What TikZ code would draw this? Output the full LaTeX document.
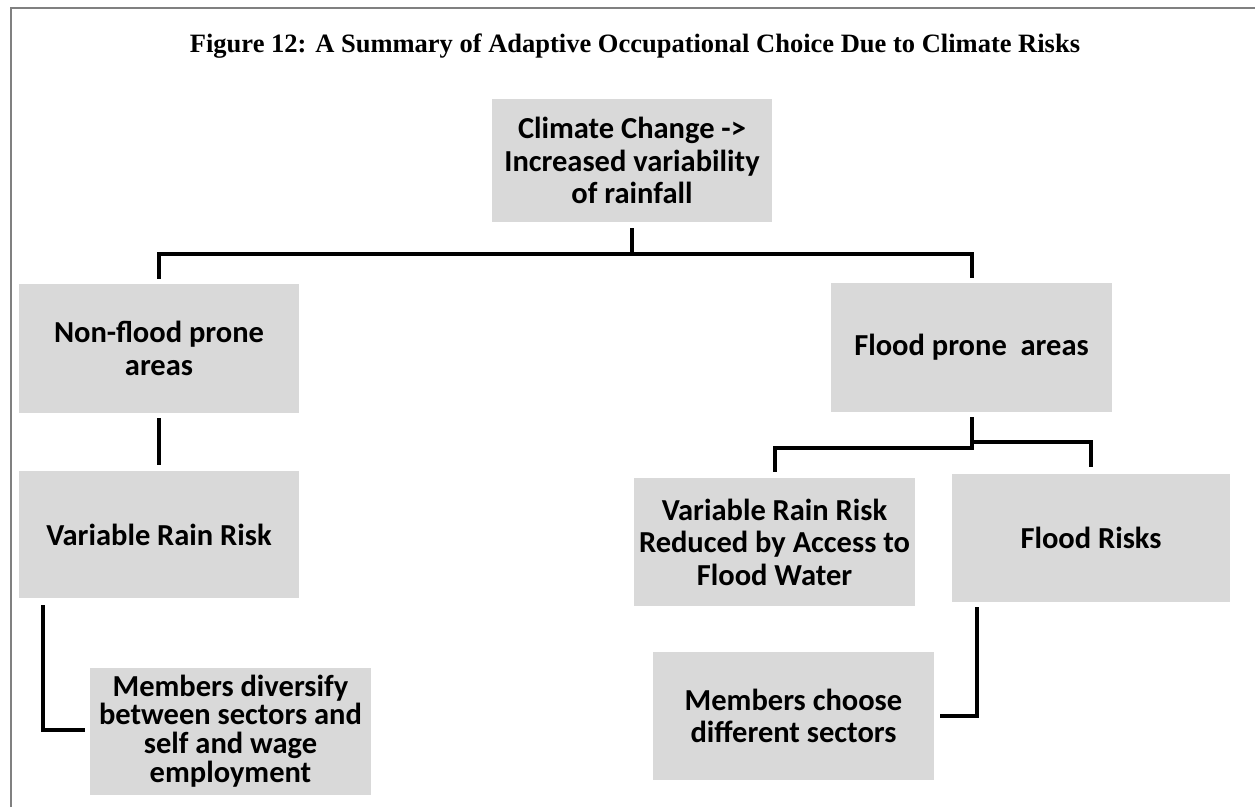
\documentclass[tikz,border=0pt]{standalone}
\usepackage{fontspec}
\setmainfont{Liberation Serif}
\newfontfamily\boxfont{Carlito}
\usetikzlibrary{calc}
\definecolor{boxgray}{HTML}{D9D9D9}
\definecolor{framegray}{HTML}{808080}
\begin{document}
\begin{tikzpicture}[x=1pt,y=-1pt,
  box/.style={fill=boxgray, draw=none, minimum width=280pt, minimum height=128pt,
    align=center, inner sep=0pt, font=\boxfont\bfseries\fontsize{30.5}{32.5}\selectfont},
  conn/.style={draw=black, line width=4pt, line join=miter}]
\useasboundingbox (0,0) rectangle (1255,807);
\draw[framegray, line width=2pt] (11,807) -- (11,8) -- (1255,8);

\node[font=\bfseries\fontsize{26.5}{30}\selectfont] (title) at (635,46)
  {Figure 12: A Summary of Adaptive Occupational Choice Due to Climate Risks};

\node[box, minimum height=123pt] (climate) at (632,160.5) {Climate Change ->\\Increased variability\\of rainfall};
\node[box, minimum height=129pt] (nonflood) at (159,348.5) {Non-flood prone\\areas};
\node[box, minimum width=281pt, minimum height=129pt] (flood) at (971.5,347.5) {Flood prone\ \ areas};
\node[box, minimum height=127pt] (vrr) at (159,534.5) {Variable Rain Risk};
\node[box, minimum width=281pt, minimum height=127pt,
  font=\boxfont\bfseries\fontsize{30.5}{28.8}\selectfont] (diverse) at (230.5,731)
  {Members diversify\\between sectors and\\self and wage\\employment};
\node[box, minimum width=281pt, minimum height=128pt] (vrrred) at (774.5,542) {Variable Rain Risk\\Reduced by Access to\\Flood Water};
\node[box, minimum width=278pt, minimum height=128pt] (floodrisk) at (1091,538) {Flood Risks};
\node[box, minimum width=281pt, minimum height=128pt] (choose) at (793.5,716) {Members choose\\different sectors};

\coordinate (bar) at (632,254);
\draw[conn] ($(climate.south)+(0,6)$) -- (climate.south |- bar);
\draw[conn] ($(nonflood.north)+(0,-5)$) |- (bar) -| ($(flood.north)+(0,-5)$);
\draw[conn] ($(nonflood.south)+(0,5)$) -- ($(vrr.north)+(0,-6)$);
\draw[conn] ($(vrr.south west)+(24,7)$) |- ($(diverse.west)+(-5,-1.5)$);
\draw[conn] ($(flood.south)+(0,5)$) -- ++(0,31) -| ($(vrrred.north)+(0,-6)$);
\draw[conn] ($(flood.south)+(0,30)$) -| ($(floodrisk.north)+(0,-7)$);
\draw[conn] ($(floodrisk.south west)+(25,5)$) |- ($(choose.east)+(6,0)$);
\end{tikzpicture}
\end{document}
